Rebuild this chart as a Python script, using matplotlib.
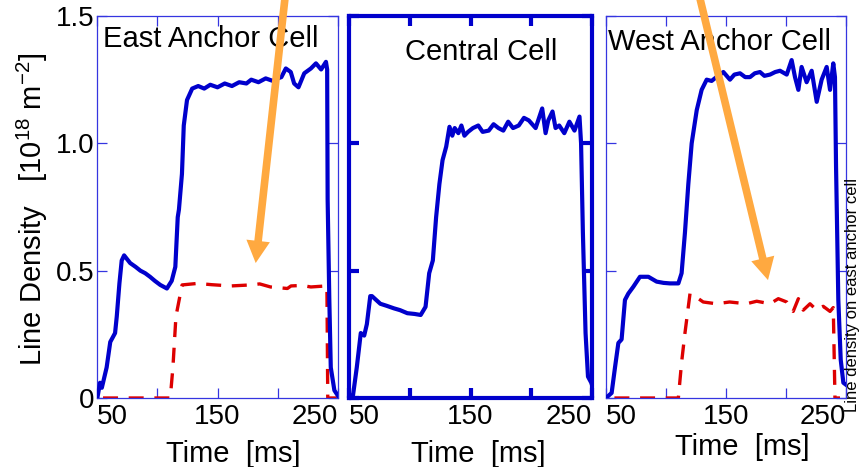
import matplotlib.pyplot as plt

plt.rcParams['font.family'] = ['Liberation Sans', 'DejaVu Sans']
plt.rcParams['mathtext.default'] = 'regular'

# ---- data (time in ms, line density in 1e18 m^-2) ----
east_blue_t = [50.3, 52.5, 54, 58, 61, 65, 66.4, 68.6, 70.5, 72.5, 77.5, 82, 86, 90, 94,
               98, 102.5, 108, 112, 115, 117, 118, 120.5, 122, 124.7, 129, 134, 139,
               144, 150, 156, 162, 168, 174, 178, 184, 190, 196, 200, 203, 206.7, 210.8,
               213.6, 217.2, 222, 227.5, 231.7, 236, 240, 241, 241.4, 242.8, 244, 247,
               250.5]
east_blue = [0.0, 0.06, 0.04, 0.12, 0.22, 0.255, 0.32, 0.45, 0.54, 0.56, 0.53, 0.515, 0.50,
             0.49, 0.476, 0.46, 0.444, 0.43, 0.46, 0.515, 0.71, 0.74, 0.88, 1.07, 1.17,
             1.215, 1.225, 1.215, 1.23, 1.22, 1.235, 1.225, 1.24, 1.235, 1.25, 1.24, 1.255,
             1.245, 1.255, 1.26, 1.294, 1.28, 1.235, 1.22, 1.275, 1.294, 1.314, 1.29, 1.32,
             1.29, 0.78, 0.385, 0.12, 0.03, 0.005]

east_red_t = [55, 110.8, 113, 115.5, 120.6, 133.6, 145, 161, 177.5, 185, 194, 208, 211,
              220, 227.5, 240, 240.8, 241.5, 249]
east_red = [0.0, 0.0, 0.12, 0.32, 0.444, 0.45, 0.445, 0.44, 0.444, 0.448, 0.436, 0.43,
            0.44, 0.442, 0.436, 0.44, 0.44, 0.0, 0.0]

central_t = [50.8, 53, 56.4, 59.7, 62.5, 64.7, 67.5, 68.9, 75.8, 81, 87, 92, 98, 104, 109,
             113, 116, 119, 121.7, 124.4, 127, 130, 132.7, 135, 137, 140, 142.5, 145, 148,
             152, 156.4, 160, 165, 169, 173, 177, 181, 185, 189.7, 194, 198, 203.6, 209,
             211.8, 214, 217.5, 220, 223, 227.2, 231.4, 235.6, 239.7, 241, 242.5, 244.7,
             246.7, 249.4, 251.4]
central = [0.01, 0.0, 0.12, 0.255, 0.245, 0.29, 0.40, 0.40, 0.37, 0.362, 0.352, 0.345,
           0.333, 0.33, 0.326, 0.358, 0.49, 0.54, 0.71, 0.84, 0.934, 0.987, 1.065, 1.03,
           1.06, 1.04, 1.07, 1.03, 1.045, 1.06, 1.07, 1.045, 1.05, 1.075, 1.06, 1.05,
           1.085, 1.06, 1.07, 1.1, 1.09, 1.06, 1.137, 1.04, 1.09, 1.125, 1.06, 1.07, 1.04,
           1.085, 1.05, 1.105, 1.0, 0.65, 0.255, 0.084, 0.06, 0.03]

west_blue_t = [50, 54.7, 57.5, 60.3, 63, 65.8, 68.6, 72.8, 78.3, 85.3, 92.2, 98, 103.3,
               110.3, 113, 115.8, 118.6, 121.4, 125.6, 129.7, 133.9, 138, 142, 147.8,
               153.3, 157, 161.7, 166, 170, 174, 178.3, 182, 186.7, 191, 195, 200.6, 204.7,
               207.5, 210.3, 213, 217.2, 221.4, 225.6, 229.7, 233.9, 236.7, 239.4, 240.8,
               241.7, 243.6, 245.6, 247.8, 250.6]
west_blue = [0.0, 0.02, 0.12, 0.216, 0.23, 0.385, 0.41, 0.437, 0.476, 0.476, 0.457, 0.452,
             0.45, 0.45, 0.49, 0.65, 0.84, 1.0, 1.13, 1.21, 1.25, 1.245, 1.26, 1.28, 1.25,
             1.27, 1.275, 1.26, 1.26, 1.275, 1.28, 1.265, 1.27, 1.28, 1.285, 1.27, 1.327,
             1.26, 1.21, 1.30, 1.24, 1.285, 1.163, 1.25, 1.30, 1.21, 1.314, 1.26, 0.91,
             0.385, 0.15, 0.06, 0.05]

west_red_t = [57, 110.3, 113, 115.8, 120, 124, 131, 142, 153, 167, 175.6, 186.7, 193.6,
              200.6, 206, 210.3, 214.4, 220, 225.6, 231, 236.7, 239.4, 240.8, 245]
west_red = [0.0, 0.0, 0.14, 0.255, 0.41, 0.40, 0.377, 0.37, 0.377, 0.37, 0.38, 0.37, 0.39,
            0.377, 0.34, 0.39, 0.345, 0.37, 0.345, 0.36, 0.34, 0.355, 0.0, 0.0]

x_ticks = [50, 100, 150, 200, 250]
x_tick_labels = ["50", "", "150", "", "250"]
y_ticks = [0, 0.5, 1.0, 1.5]
y_tick_labels = ["0", "0.5", "1.0", "1.5"]

BLUE = '#0000CC'
RED = '#DD0000'
ORANGE = '#FFA940'
FRAME = '#3535E0'

fig = plt.figure(figsize=(8.61, 4.67), dpi=100)

ax_e = fig.add_axes([97 / 861, 69 / 467, 241 / 861, 382 / 467])
ax_c = fig.add_axes([349 / 861, 69 / 467, 243 / 861, 382 / 467])
ax_w = fig.add_axes([606 / 861, 69 / 467, 240 / 861, 382 / 467])

panels = [
    (ax_e, "East Anchor Cell", (0.025, 0.919), (0.564, -0.168), 0.9, FRAME),
    (ax_c, "Central Cell", (0.23, 0.885), (0.531, -0.168), 3.0, BLUE),
    (ax_w, "West Anchor Cell", (0.008, 0.911), (0.567, -0.150), 0.9, FRAME),
]

for ax, title, tpos, xlpos, lw, fc in panels:
    ax.set_xlim(50, 250)
    ax.set_ylim(0, 1.5)
    for sp in ax.spines.values():
        sp.set_color(fc)
        sp.set_linewidth(lw)
    ax.tick_params(direction='in', length=7, width=lw, color=fc, top=True, right=True,
                   labelsize=20, pad=4)
    ax.set_xticks(x_ticks, x_tick_labels)
    tl = ax.get_xticklabels()
    tl[0].set_ha('left')
    tl[-1].set_ha('right')
    ax.set_yticks(y_ticks, y_tick_labels)
    if ax is not ax_e:
        ax.tick_params(labelleft=False)
    else:
        ax.tick_params(axis='y', pad=2)
    ax.text(tpos[0], tpos[1], title, transform=ax.transAxes, fontsize=21,
            ha='left', va='baseline')
    ax.text(xlpos[0], xlpos[1], "Time  [ms]", transform=ax.transAxes, fontsize=21,
            ha='center', va='baseline')

ax_e.plot(east_blue_t, east_blue, color=BLUE, lw=3.0, zorder=3)
ax_e.plot(east_red_t, east_red, color=RED, lw=2.4, dashes=(4.5, 3.2), zorder=2)
ax_c.plot(central_t, central, color=BLUE, lw=3.0, zorder=3)
ax_w.plot(west_blue_t, west_blue, color=BLUE, lw=3.0, zorder=3)
ax_w.plot(west_red_t, west_red, color=RED, lw=2.4, dashes=(4.5, 3.2), zorder=2)

arrow_kw = dict(facecolor=ORANGE, edgecolor='none', width=5.5, headwidth=17,
                headlength=16, shrink=0)
ax_e.annotate('', xy=(181.7, 0.53), xytext=(206.7, 1.6), arrowprops=arrow_kw,
              annotation_clip=False, zorder=10)
ax_w.annotate('', xy=(185, 0.463), xytext=(126.7, 1.6), arrowprops=arrow_kw,
              annotation_clip=False, zorder=10)

fig.text(32 / 861, 1 - 209 / 467, "Line Density   [10$^{18}$ m$^{-2}$]", rotation=90,
         fontsize=21, ha='center', va='center')
fig.text(860 / 861, 1 - 412 / 467, "Line density on east anchor cell", rotation=90,
         fontsize=12, ha='right', va='bottom')

fig.savefig('out.png', dpi=100)
